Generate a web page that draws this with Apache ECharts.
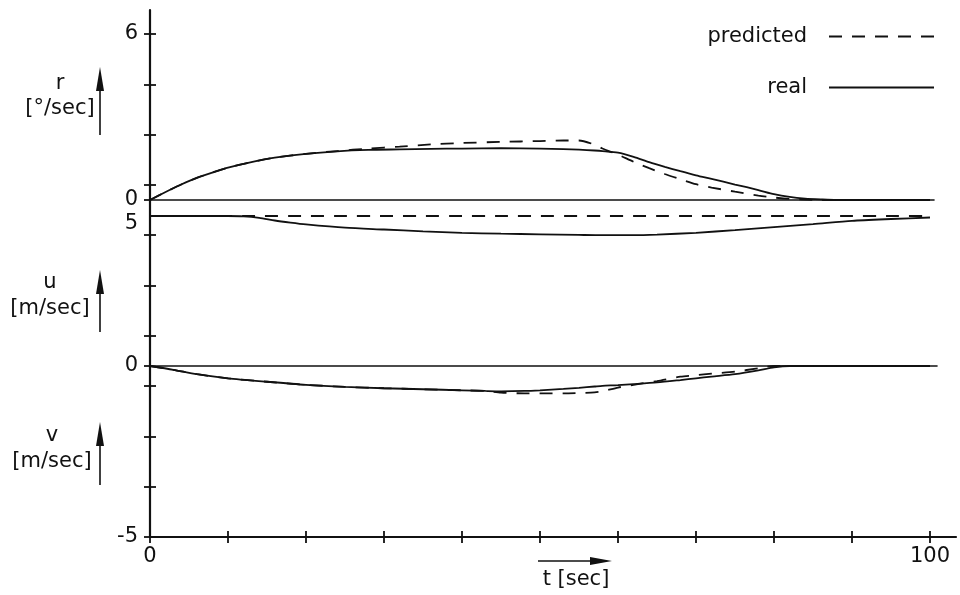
<!DOCTYPE html>
<html>
<head>
<meta charset="utf-8">
<script src="https://cdn.jsdelivr.net/npm/echarts@6/dist/echarts.min.js"></script>
<style>
  html, body { margin: 0; padding: 0; background: #fff; }
  #chart { width: 960px; height: 595px; }
</style>
</head>
<body>
<div id="chart"></div>
<script>
// Yaw rate r, surge speed u and sway speed v over time: predicted vs. real.
const tR = [0, 2, 4, 6, 8, 10, 13, 16, 20, 24, 28, 32, 36, 40, 45, 50, 53, 55, 57, 58, 60, 62, 64, 66, 68, 70, 72, 75, 78, 80, 82, 84, 86, 88, 100];
const rReal = [0, 0.29, 0.56, 0.8, 0.99, 1.17, 1.37, 1.53, 1.67, 1.76, 1.81, 1.83, 1.85, 1.86, 1.87, 1.86, 1.84, 1.82, 1.79, 1.77, 1.71, 1.56, 1.37, 1.2, 1.04, 0.89, 0.76, 0.56, 0.36, 0.21, 0.11, 0.05, 0.02, 0, 0];
const rPred = [0, 0.29, 0.56, 0.8, 0.99, 1.17, 1.37, 1.53, 1.67, 1.77, 1.86, 1.93, 2.01, 2.06, 2.1, 2.13, 2.15, 2.15, 2.0, 1.86, 1.64, 1.38, 1.15, 0.94, 0.75, 0.57, 0.45, 0.3, 0.16, 0.09, 0.04, 0.01, 0, 0, 0];

const tU = [0, 5, 10, 12, 14, 16, 18, 20, 25, 30, 35, 40, 45, 50, 55, 58, 62, 65, 70, 75, 80, 85, 90, 95, 100];
const uReal = [5, 5, 5, 4.99, 4.94, 4.85, 4.78, 4.72, 4.61, 4.55, 4.49, 4.44, 4.41, 4.39, 4.37, 4.36, 4.36, 4.38, 4.44, 4.53, 4.63, 4.73, 4.84, 4.9, 4.95];
const uPred = [5, 5, 5, 5, 5, 5, 5, 5, 5, 5, 5, 5, 5, 5, 5, 5, 5, 5, 5, 5, 5, 5, 5, 5, 5];

const tV = [0, 3, 6, 10, 15, 20, 25, 30, 35, 40, 43, 45, 48, 50, 53, 55, 57, 58, 60, 62, 65, 68, 70, 72, 75, 78, 80, 82, 100];
const vReal = [0, -0.11, -0.24, -0.36, -0.46, -0.55, -0.61, -0.65, -0.68, -0.71, -0.73, -0.74, -0.73, -0.71, -0.67, -0.64, -0.6, -0.58, -0.56, -0.53, -0.48, -0.41, -0.36, -0.31, -0.24, -0.13, -0.04, 0, 0];
const vPred = [0, -0.11, -0.24, -0.36, -0.46, -0.55, -0.61, -0.65, -0.68, -0.71, -0.73, -0.78, -0.8, -0.8, -0.8, -0.79, -0.77, -0.74, -0.63, -0.55, -0.44, -0.31, -0.27, -0.225, -0.165, -0.065, 0, 0, 0];

const tTicks = [0, 10, 20, 30, 40, 50, 60, 70, 80, 90, 100];
const tLabels = [0, 100];
const frameTicks = [0, 1, 2, 3, 4, 5, 6, 7, 8, 9, 10];

const INK = '#111';
const FONT = 'DejaVu Sans';
const PX_PER_T = 7.8;          // 0..100 s spans 780 px
const LEFT = 150;

const pairs = (ts, vs) => ts.map((t, i) => [t, vs[i]]);
const xMaxFor = w => w / PX_PER_T;

const hiddenX = (grid, width, showLine) => ({
  type: 'value', gridIndex: grid, min: 0, max: xMaxFor(width),
  axisLine: { show: showLine, onZero: false, lineStyle: { color: INK, width: 1.6 } },
  axisTick: { show: false }, axisLabel: { show: false }, splitLine: { show: false }
});

const labelStyle = { color: INK, fontSize: 21, fontFamily: FONT };

const realLine = { color: INK, width: 1.8 };
const predLine = { color: INK, width: 1.8, type: [13, 10] };

function series(name, xi, yi, ts, vs, line) {
  return {
    name, type: 'line', xAxisIndex: xi, yAxisIndex: yi,
    data: pairs(ts, vs), smooth: 0.25, symbol: 'none', showSymbol: false,
    lineStyle: line, itemStyle: { color: INK }, silent: true, z: 3
  };
}

function arrowUp(x, yFrom, yTo) {
  return {
    type: 'group', silent: true, children: [
      { type: 'line', shape: { x1: x, y1: yFrom, x2: x, y2: yTo + 10 }, style: { stroke: INK, lineWidth: 1.6 } },
      { type: 'polygon', shape: { points: [[x, yTo], [x - 4, yTo + 24], [x + 4, yTo + 24]] }, style: { fill: INK } }
    ]
  };
}

const tickStyle = { color: INK, width: 1.8 };

const option = {
  animation: false,
  backgroundColor: '#fff',
  legend: {
    data: ['predicted', 'real'],
    orient: 'vertical', right: 25, top: 26, padding: 0,
    align: 'right', itemWidth: 105, itemHeight: 12, itemGap: 30,
    itemStyle: { color: 'rgba(0,0,0,0)', opacity: 0, borderWidth: 0 },
    textStyle: { color: INK, fontSize: 21, fontFamily: FONT, padding: [0, 17, 0, 0] },
    selectedMode: false
  },
  grid: [
    { left: LEFT, top: 10, width: 806, height: 527 },   // frame with the common axes
    { left: LEFT, top: 34, width: 784, height: 166 },   // r
    { left: LEFT, top: 216, width: 787, height: 150 },  // u
    { left: LEFT, top: 366, width: 787, height: 171 }   // v
  ],
  xAxis: [
    {
      type: 'value', gridIndex: 0, min: 0, max: xMaxFor(806), position: 'bottom',
      axisLine: { show: true, onZero: false, lineStyle: { color: INK, width: 2.2 } },
      axisTick: { show: true, customValues: tTicks, length: 6, lineStyle: tickStyle },
      axisLabel: { show: true, customValues: tLabels, margin: 9, ...labelStyle },
      splitLine: { show: false }
    },
    {
      type: 'value', gridIndex: 0, min: 0, max: xMaxFor(806), position: 'bottom',
      axisLine: { show: false, onZero: false },
      axisTick: { show: true, inside: true, customValues: tTicks, length: 6, lineStyle: tickStyle },
      axisLabel: { show: false }, splitLine: { show: false }
    },
    hiddenX(1, 784, true),
    hiddenX(2, 787, true),
    hiddenX(3, 787, false)
  ],
  yAxis: [
    {
      type: 'value', gridIndex: 0, min: 0, max: 527 / 50.3, position: 'left',
      axisLine: { show: true, onZero: false, lineStyle: { color: INK, width: 2.2 } },
      axisTick: { show: true, customValues: frameTicks, length: 6, lineStyle: tickStyle },
      axisLabel: { show: false }, splitLine: { show: false }
    },
    {
      type: 'value', gridIndex: 0, min: 0, max: 527 / 50.3, position: 'left',
      axisLine: { show: false, onZero: false },
      axisTick: { show: true, inside: true, customValues: frameTicks, length: 6, lineStyle: tickStyle },
      axisLabel: { show: false }, splitLine: { show: false }
    },
    {
      type: 'value', gridIndex: 1, min: 0, max: 6, position: 'left',
      axisLine: { show: false, onZero: false },
      axisTick: { show: true, customValues: [0], length: 6, lineStyle: tickStyle },
      axisLabel: { show: true, customValues: [0, 6], margin: 12, ...labelStyle },
      splitLine: { show: false }
    },
    {
      type: 'value', gridIndex: 2, min: 0, max: 5, position: 'left',
      axisLine: { show: false, onZero: false },
      axisTick: { show: false },
      axisLabel: { show: true, customValues: [5], margin: 12, verticalAlign: 'top', lineHeight: 15, ...labelStyle },
      splitLine: { show: false }
    },
    {
      type: 'value', gridIndex: 3, min: -5, max: 0, position: 'left',
      axisLine: { show: false, onZero: false },
      axisTick: { show: true, customValues: [0], length: 6, lineStyle: tickStyle },
      axisLabel: { show: true, customValues: [-5, 0], margin: 12, ...labelStyle },
      splitLine: { show: false }
    }
  ],
  series: [
    series('real', 2, 2, tR, rReal, realLine),
    series('predicted', 2, 2, tR, rPred, predLine),
    series('real', 3, 3, tU, uReal, realLine),
    series('predicted', 3, 3, tU, uPred, predLine),
    series('real', 4, 4, tV, vReal, realLine),
    series('predicted', 4, 4, tV, vPred, predLine)
  ],
  graphic: [
    { type: 'text', silent: true, style: { text: 'r\n[°/sec]', x: 60, y: 96, align: 'center', verticalAlign: 'middle', lineHeight: 25, fill: INK, font: '21px "DejaVu Sans"' } },
    { type: 'text', silent: true, style: { text: 'u\n[m/sec]', x: 50, y: 296, align: 'center', verticalAlign: 'middle', lineHeight: 26, fill: INK, font: '21px "DejaVu Sans"' } },
    { type: 'text', silent: true, style: { text: 'v\n[m/sec]', x: 52, y: 449, align: 'center', verticalAlign: 'middle', lineHeight: 26, fill: INK, font: '21px "DejaVu Sans"' } },
    arrowUp(100, 135, 67),
    arrowUp(100, 332, 270),
    arrowUp(100, 485, 422),
    {
      type: 'group', silent: true, children: [
        { type: 'line', shape: { x1: 538, y1: 561, x2: 600, y2: 561 }, style: { stroke: INK, lineWidth: 1.6 } },
        { type: 'polygon', shape: { points: [[612, 561], [590, 557], [590, 565]] }, style: { fill: INK } }
      ]
    },
    { type: 'text', silent: true, style: { text: 't [sec]', x: 576, y: 580, align: 'center', verticalAlign: 'middle', fill: INK, font: '21px "DejaVu Sans"' } }
  ]
};

const chart = echarts.init(document.getElementById('chart'), null, { renderer: 'canvas' });
chart.setOption(option);
</script>
</body>
</html>
